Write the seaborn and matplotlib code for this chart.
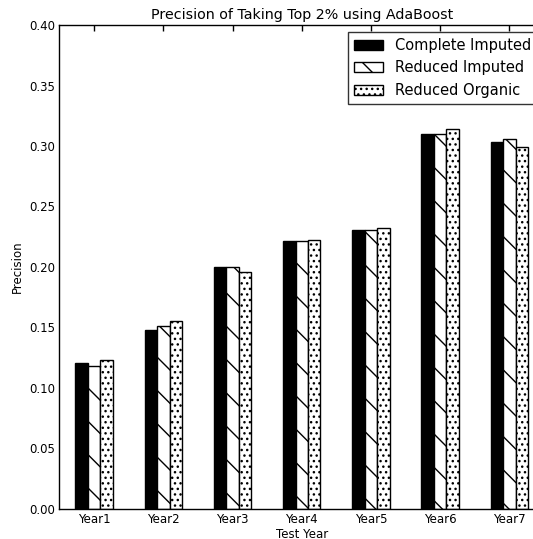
import seaborn as sns
import matplotlib.pyplot as plt
import pandas as pd

sns.set_style('white')

years = ['Year1', 'Year2', 'Year3', 'Year4', 'Year5', 'Year6', 'Year7']
series = ['Complete Imputed', 'Reduced Imputed', 'Reduced Organic']
complete_imputed = [0.1205, 0.1478, 0.1998, 0.2212, 0.2305, 0.3100, 0.3030]
reduced_imputed = [0.1180, 0.1510, 0.2003, 0.2212, 0.2302, 0.3100, 0.3055]
reduced_organic = [0.1230, 0.1555, 0.1957, 0.2223, 0.2320, 0.3143, 0.2995]
hatches = ['', '\\', '...']
colors = ['black', 'white', 'white']

plt.rcParams.update({
    'font.family': ['DejaVu Sans'],
    'text.color': 'black',
    'axes.labelcolor': 'black',
    'xtick.color': 'black',
    'ytick.color': 'black',
    'hatch.linewidth': 1.0,
    'hatch.color': 'black',
    'xtick.direction': 'in',
    'ytick.direction': 'in',
    'xtick.top': True,
    'ytick.right': True,
    'xtick.major.size': 4,
    'ytick.major.size': 4,
    'axes.edgecolor': 'black',
    'axes.linewidth': 1.0,
})

df = pd.DataFrame({
    'year': years * 3,
    'model': [s for s in series for _ in years],
    'precision': complete_imputed + reduced_imputed + reduced_organic,
})

fig = plt.figure(figsize=(5.33, 5.39), dpi=100)
ax = fig.add_axes([0.1116, 0.0557, 0.9090, 0.8979])

sns.barplot(data=df, x='year', y='precision', hue='model', hue_order=series,
            palette=colors, edgecolor='black', linewidth=1.0, width=0.54,
            saturation=1, errorbar=None, legend=False, ax=ax)

# seaborn draws one container per hue level
for cont, h in zip(ax.containers, hatches):
    for bar in cont:
        bar.set_hatch(h)

ax.set_xlim(-0.5, 6.5)
ax.set_ylim(0, 0.40)
ax.set_yticks([0.0, 0.05, 0.10, 0.15, 0.20, 0.25, 0.30, 0.35, 0.40])
ax.set_yticklabels(['%.2f' % v for v in ax.get_yticks()])
ax.tick_params(labelsize=8.5, color='black', labelcolor='black', width=1.0, pad=3)
ax.set_title('Precision of Taking Top 2% using AdaBoost', fontsize=10.3, pad=4)
ax.set_xlabel('Test Year', fontsize=8.5, labelpad=1)
ax.set_ylabel('Precision', fontsize=8.5, labelpad=4)

leg = ax.legend(ax.containers, series, loc='upper right', fontsize=10.5,
                fancybox=False, frameon=True, borderpad=0.4, labelspacing=0.5,
                handletextpad=0.8, borderaxespad=0.5)
leg.get_frame().set_edgecolor('black')
leg.get_frame().set_linewidth(1.0)

fig.savefig('out.png', dpi=100)
